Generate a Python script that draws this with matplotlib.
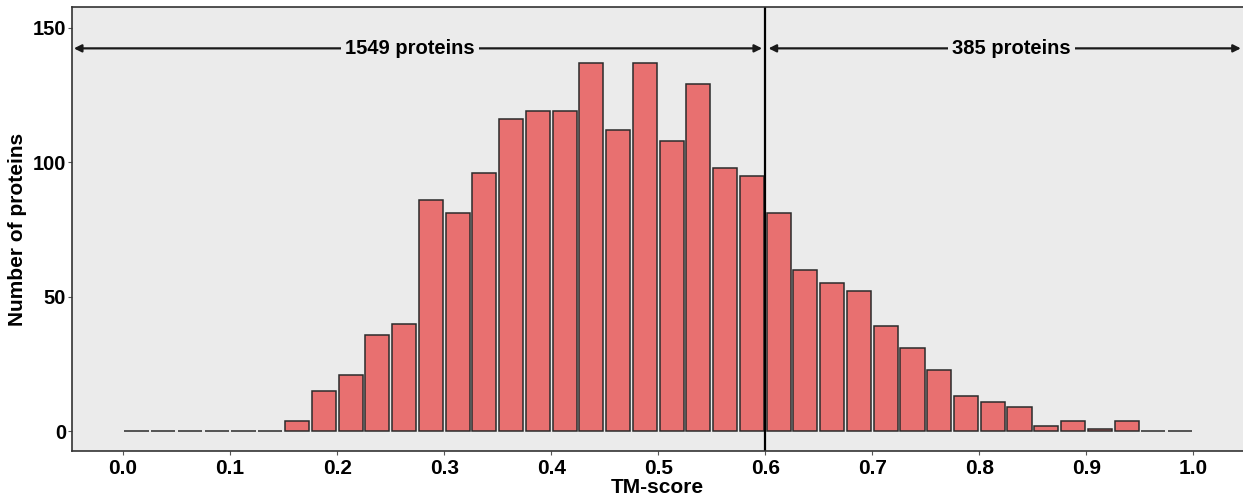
import numpy as np
import matplotlib.pyplot as plt

plt.rcParams['font.family'] = ['Liberation Sans', 'DejaVu Sans']
plt.rcParams['font.weight'] = 'bold'

# histogram bins (width 0.025) and counts
bin_left = np.arange(0, 1.0, 0.025)
counts = [0, 0, 0, 0, 0, 0, 4, 15, 21, 36,
          40, 86, 81, 96, 116, 119, 119, 137, 112, 137,
          108, 129, 98, 95, 81, 60, 55, 52, 39, 31,
          23, 13, 11, 9, 2, 4, 1, 4, 0, 0]
cutoff = 0.6
left_label = '1549 proteins'
right_label = '385 proteins'
xticks = [0.0, 0.1, 0.2, 0.3, 0.4, 0.5, 0.6, 0.7, 0.8, 0.9, 1.0]
yticks = [0, 50, 100, 150]

fig = plt.figure(figsize=(12.43, 4.96), dpi=100)
ax = fig.add_axes([0.0577, 0.091, 0.9423, 0.894])
ax.set_facecolor('#EBEBEB')

bw = 0.025
ax.bar(bin_left + bw / 2, counts, width=bw * 0.9, color='#E87070',
       edgecolor='#2b2b2b', linewidth=1.1)

ax.set_xlim(-0.048, 1.0463)
ax.set_ylim(-7.2, 157.5)

# vertical cutoff line
ax.axvline(cutoff, color='black', lw=1.6)

# arrows spanning each side of the cutoff
ya = 142.3
xmin, xmax = ax.get_xlim()
aprops = dict(arrowstyle='<|-|>', color='#1a1a1a', lw=1.6,
              mutation_scale=11, shrinkA=0, shrinkB=0)
ax.annotate('', xy=(xmin + 0.002, ya), xytext=(cutoff - 0.003, ya),
            arrowprops=aprops)
ax.annotate('', xy=(cutoff + 0.003, ya), xytext=(xmax - 0.002, ya),
            arrowprops=aprops)
bb = dict(facecolor='#EBEBEB', edgecolor='none', pad=3)
ax.text(0.268, ya, left_label, ha='center', va='center', fontsize=14.5,
        fontweight='bold', bbox=bb)
ax.text(0.83, ya, right_label, ha='center', va='center', fontsize=14.5,
        fontweight='bold', bbox=bb)

ax.set_xticks(xticks)
ax.set_xticklabels(['%.1f' % t for t in xticks])
ax.set_yticks(yticks)
ax.tick_params(axis='x', labelsize=15, length=3, color='#555555', pad=3)
ax.tick_params(axis='y', labelsize=14.5, length=3, color='#555555', pad=1)
for lab in ax.get_xticklabels() + ax.get_yticklabels():
    lab.set_fontweight('bold')

ax.set_xlabel('TM-score', fontsize=15, fontweight='bold', labelpad=0)
ax.set_ylabel('Number of proteins', fontsize=15, fontweight='bold',
              labelpad=4)

for s in ['left', 'bottom', 'top']:
    ax.spines[s].set_color('#333333')
    ax.spines[s].set_linewidth(1.2)
ax.spines['right'].set_visible(False)

fig.savefig('out.png', dpi=100)
